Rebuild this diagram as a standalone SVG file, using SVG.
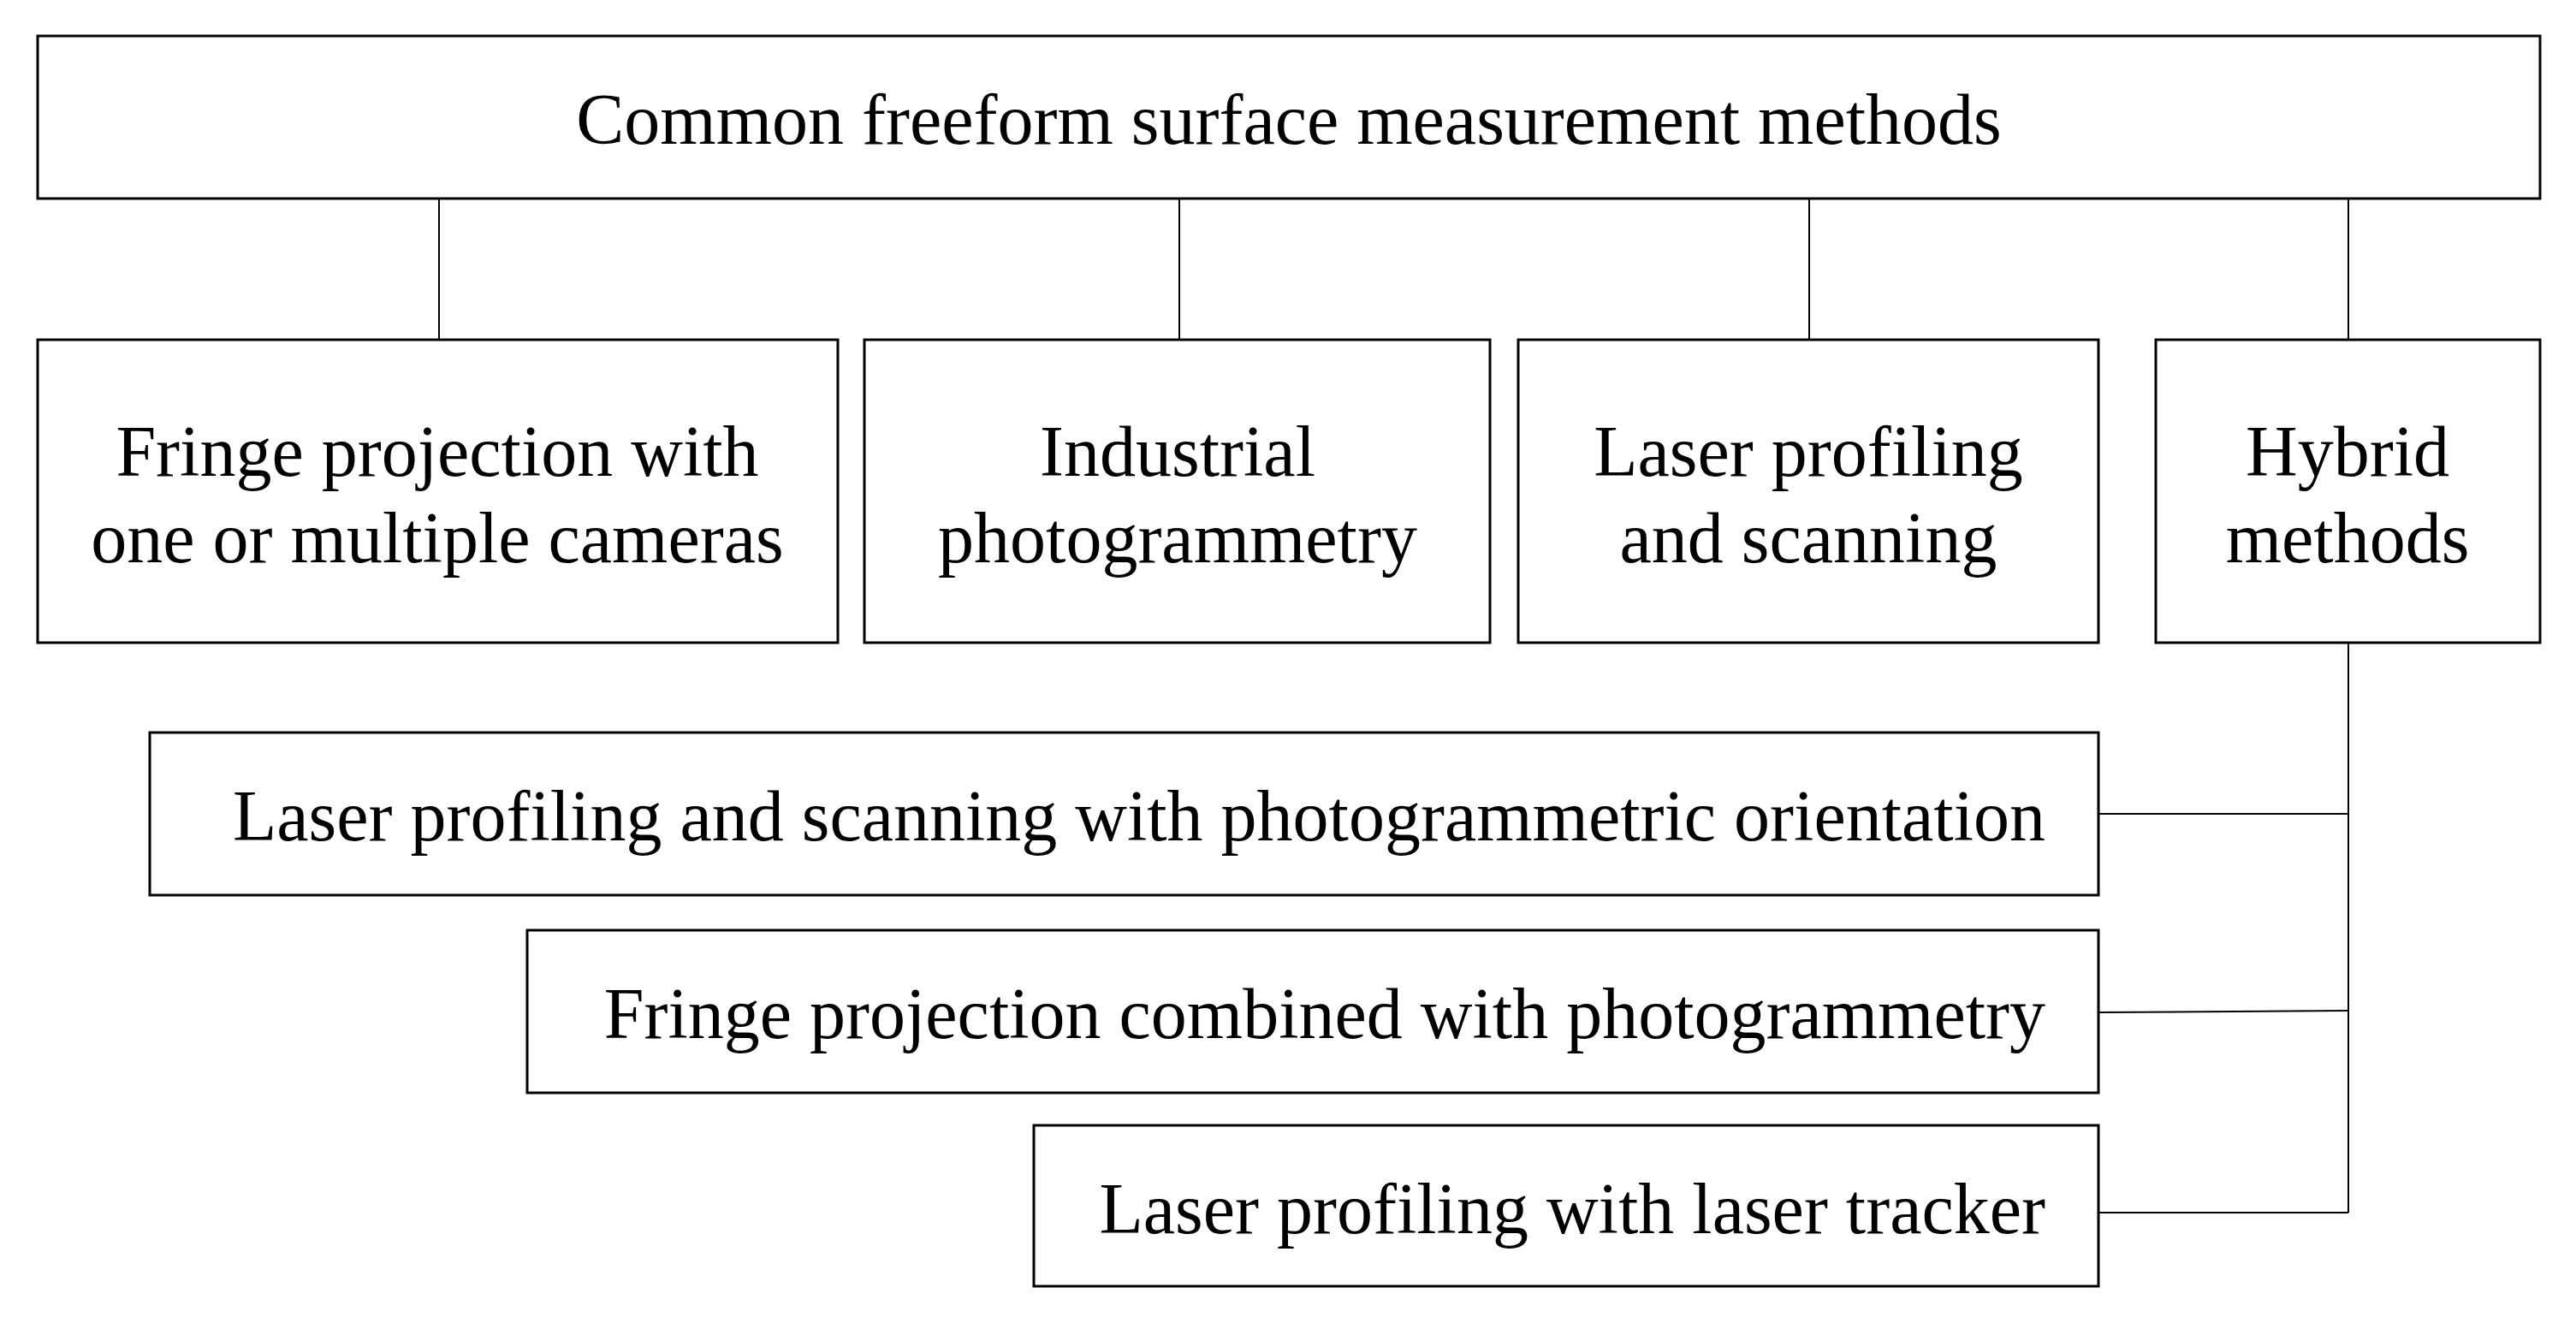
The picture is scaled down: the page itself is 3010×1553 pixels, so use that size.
<svg xmlns="http://www.w3.org/2000/svg" width="3010" height="1553" viewBox="0 0 3010 1553">
<style>
rect{fill:#fff;stroke:#000;stroke-width:3}
line,polyline{stroke:#000;stroke-width:2;fill:none}
text{font-family:"Liberation Serif",serif;font-size:84px;fill:#000}
.c{text-anchor:middle}.r{text-anchor:end}
</style>
<rect width="3010" height="1553" style="stroke:none"/>
<g id="connectors">
<line x1="513" y1="232" x2="513" y2="397"/>
<line x1="1378" y1="232" x2="1378" y2="397"/>
<line x1="2114" y1="232" x2="2114" y2="397"/>
<line x1="2744" y1="232" x2="2744" y2="397"/>
<line x1="2744" y1="751" x2="2744" y2="1417"/>
<line x1="2452" y1="951" x2="2744" y2="951"/>
<line x1="2452" y1="1183" x2="2744" y2="1181"/>
<line x1="2452" y1="1417" x2="2744" y2="1417"/>
</g>
<g id="root"><rect x="44" y="42" width="2924" height="190"/><text class="c" x="1506" y="168">Common freeform surface measurement methods</text></g>
<g id="n1"><rect x="44" y="397" width="935" height="354"/><text class="c" x="511" y="556">Fringe projection with</text><text class="c" x="511" y="657">one or multiple cameras</text></g>
<g id="n2"><rect x="1010" y="397" width="731" height="354"/><text class="c" x="1376" y="556">Industrial</text><text class="c" x="1376" y="657">photogrammetry</text></g>
<g id="n3"><rect x="1774" y="397" width="678" height="354"/><text class="c" x="2113" y="556">Laser profiling</text><text class="c" x="2113" y="657">and scanning</text></g>
<g id="n4"><rect x="2519" y="397" width="449" height="354"/><text class="c" x="2743" y="556">Hybrid</text><text class="c" x="2743" y="657">methods</text></g>
<g id="h1"><rect x="175" y="856" width="2277" height="190"/><text class="r" x="2390" y="982">Laser profiling and scanning with photogrammetric orientation</text></g>
<g id="h2"><rect x="616" y="1087" width="1836" height="190"/><text class="r" x="2390" y="1213">Fringe projection combined with photogrammetry</text></g>
<g id="h3"><rect x="1208" y="1315" width="1244" height="188"/><text class="r" x="2390" y="1441">Laser profiling with laser tracker</text></g>
</svg>
